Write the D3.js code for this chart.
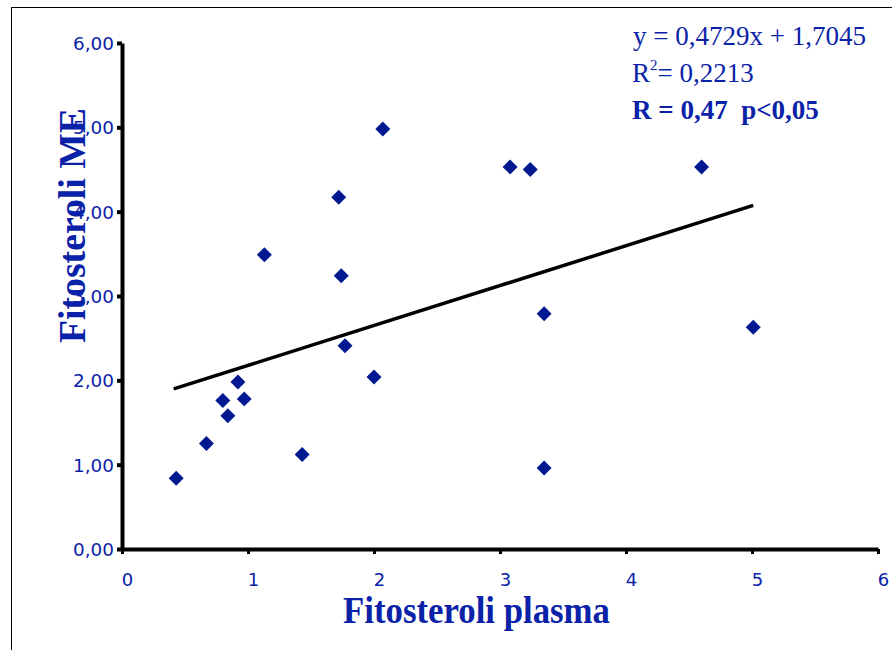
<!DOCTYPE html>
<html>
<head>
<meta charset="utf-8">
<script src="https://cdn.jsdelivr.net/npm/d3@7"></script>
<style>
  body { margin: 0; background: #fff; }
</style>
</head>
<body>
<div id="chart"></div>
<script>
// Datos: fitosteroli plasma (x) vs fitosteroli ME (y)
const plasma = [0.43, 0.67, 0.84, 0.80, 0.92, 0.97, 1.13, 1.43, 1.72, 1.74, 1.77, 2.00, 2.07, 3.08, 3.24, 3.35, 3.35, 4.60, 5.01];
const me     = [0.84, 1.25, 1.58, 1.76, 1.98, 1.78, 3.49, 1.12, 4.17, 3.24, 2.41, 2.04, 4.98, 4.53, 4.50, 2.79, 0.96, 4.53, 2.63];

// Recta de regresión (como aparece en la etiqueta)
const slope = 0.4729;
const intercept = 1.7045;
const annotation = ["y = 0,4729x + 1,7045", "0,2213", "R = 0,47  p<0,05"];

const xTicks = [0, 1, 2, 3, 4, 5, 6];
const yTicks = [0, 1, 2, 3, 4, 5, 6];

const W = 892, H = 650;
const blue = "#0a22a8";
const dark = "#001890";
const tickFont = "'DejaVu Sans', Verdana, sans-serif";
const serif = "'Liberation Serif', 'Times New Roman', serif";

const svg = d3.select("#chart").append("svg")
  .attr("width", W)
  .attr("height", H);

// marco exterior
svg.append("rect")
  .attr("x", 11.5).attr("y", 7.5)
  .attr("width", W).attr("height", H)
  .attr("fill", "none")
  .attr("stroke", "#000")
  .attr("stroke-width", 1);

const x = d3.scaleLinear().domain([0, 6]).range([122, 878]);
const y = d3.scaleLinear().domain([0, 6]).range([549, 43]);

// eje Y
const gy = svg.append("g")
  .attr("transform", `translate(${x(0)},0)`)
  .call(d3.axisLeft(y).tickValues(yTicks).tickSize(5).tickSizeOuter(0)
    .tickFormat(d => d3.format(".2f")(d).replace(".", ",")));
gy.attr("font-family", tickFont).attr("font-size", 18);
gy.select(".domain").attr("stroke", "#000").attr("stroke-width", 4);
gy.selectAll(".tick line").attr("stroke", "#000").attr("stroke-width", 4);
gy.selectAll(".tick text")
  .attr("fill", blue)
  .attr("x", -8)
  .attr("dy", "0.36em")
  .attr("textLength", 41)
  .attr("lengthAdjust", "spacingAndGlyphs");

// eje X
const gx = svg.append("g")
  .attr("transform", `translate(0,${y(0)})`)
  .call(d3.axisBottom(x).tickValues(xTicks).tickSize(5).tickSizeOuter(0)
    .tickFormat(d3.format("d")));
gx.attr("font-family", tickFont).attr("font-size", 18);
gx.select(".domain").attr("stroke", "#000").attr("stroke-width", 4);
gx.selectAll(".tick line").attr("stroke", "#000").attr("stroke-width", 3);
gx.selectAll(".tick text")
  .attr("fill", blue)
  .attr("dx", 5)
  .attr("y", 24)
  .attr("dy", "0.71em");

// línea de tendencia sobre el rango de x
const [x0, x1] = d3.extent(plasma);
const trend = [x0 - 0.02, x1].map(v => [v, slope * v + intercept]);
svg.append("path")
  .attr("d", d3.line().x(d => x(d[0])).y(d => y(d[1]))(trend))
  .attr("fill", "none")
  .attr("stroke", "#000")
  .attr("stroke-width", 3.5);

// puntos (rombos)
const pts = plasma.map((v, i) => ({ x: v, y: me[i] }));
svg.append("g")
  .selectAll("path")
  .data(pts)
  .join("path")
  .attr("transform", d => `translate(${x(d.x)},${y(d.y)}) rotate(45)`)
  .attr("d", d3.symbol(d3.symbolSquare, 112))
  .attr("fill", dark);

// títulos de ejes
svg.append("text")
  .attr("x", 343).attr("y", 623)
  .attr("font-family", serif)
  .attr("font-weight", "bold")
  .attr("font-size", 37)
  .attr("fill", blue)
  .attr("textLength", 267)
  .attr("lengthAdjust", "spacingAndGlyphs")
  .text("Fitosteroli plasma");

svg.append("text")
  .attr("transform", "translate(85,343) rotate(-90)")
  .attr("font-family", serif)
  .attr("font-weight", "bold")
  .attr("font-size", 37)
  .attr("fill", blue)
  .attr("textLength", 235)
  .attr("lengthAdjust", "spacingAndGlyphs")
  .text("Fitosteroli ME");

// anotación de la regresión
const ann = svg.append("g")
  .attr("font-family", serif)
  .attr("font-size", 27)
  .attr("fill", blue);

ann.append("text").attr("x", 633).attr("y", 45).text(annotation[0]);
const r2 = ann.append("text").attr("x", 632).attr("y", 82);
r2.append("tspan").text("R");
r2.append("tspan").attr("font-size", 15).attr("dy", -12).text("2");
r2.append("tspan").attr("dy", 12).text("= " + annotation[1]);
ann.append("text").attr("x", 632).attr("y", 119)
  .attr("font-weight", "bold")
  .attr("xml:space", "preserve")
  .style("white-space", "pre")
  .text(annotation[2]);
</script>
</body>
</html>
